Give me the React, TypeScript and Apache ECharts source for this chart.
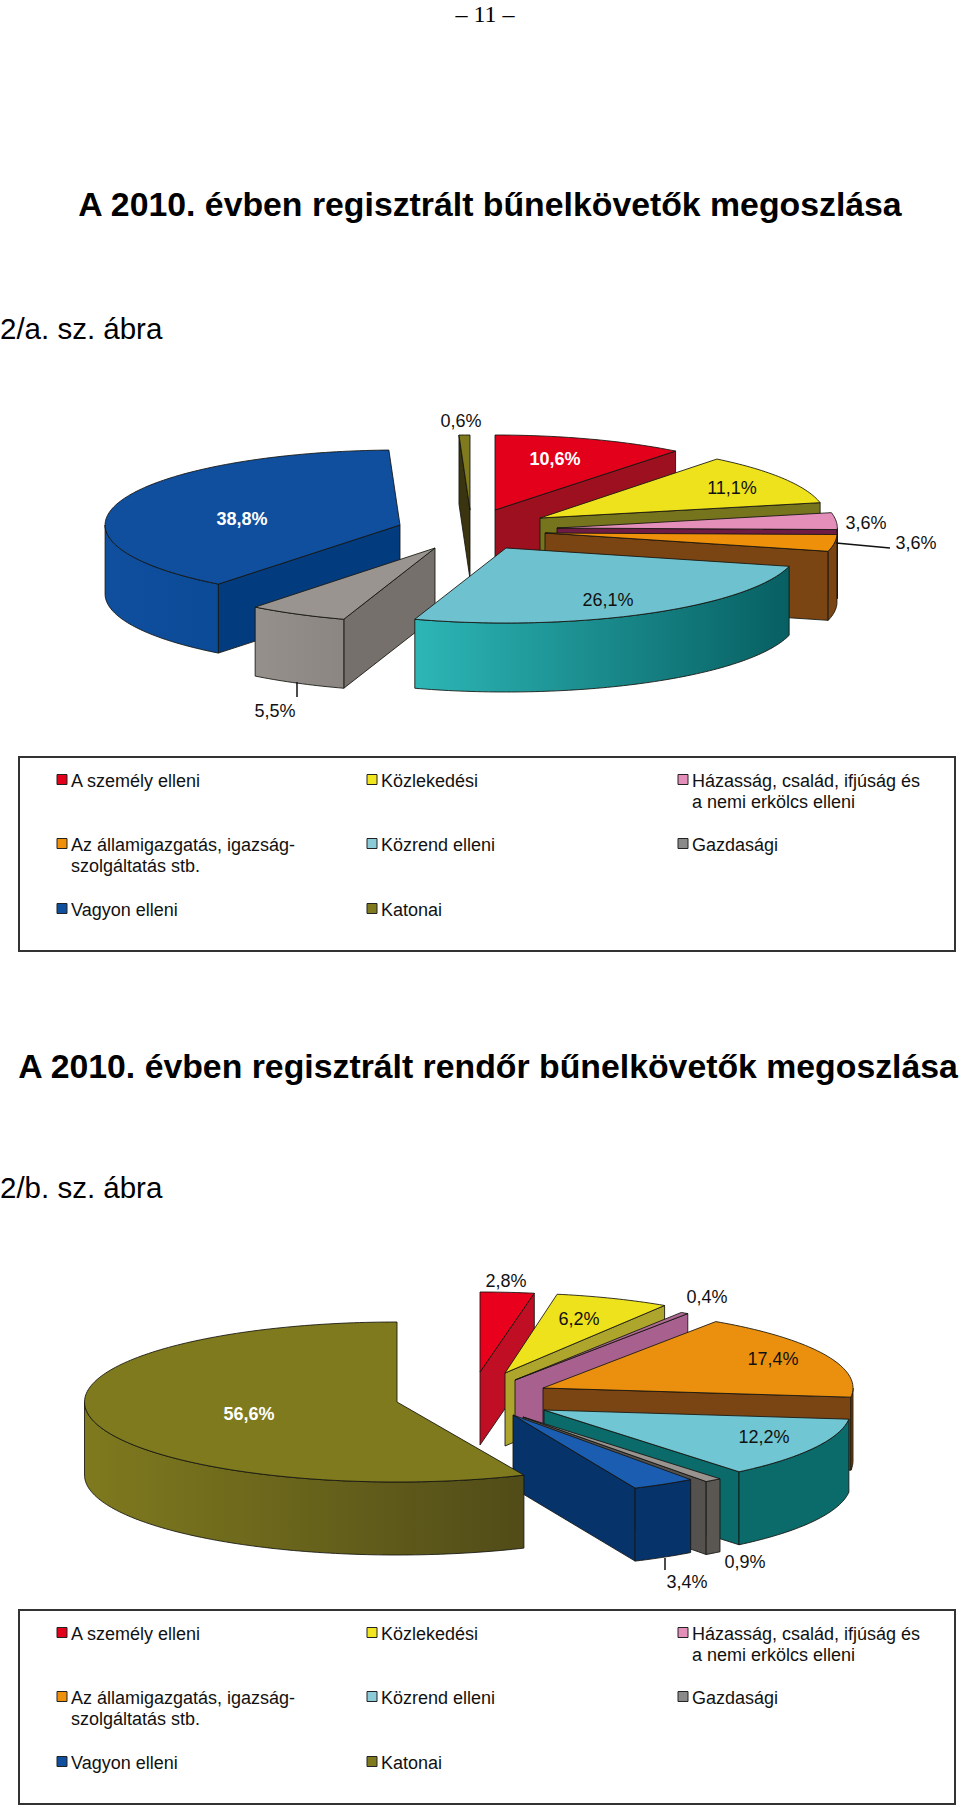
import React, { useEffect, useRef } from "react";
import * as echarts from "echarts";

// ---------- data ----------
const categories = [
  "A személy elleni",
  "Közlekedési",
  "Házasság, család, ifjúság és\na nemi erkölcs elleni",
  "Az államigazgatás, igazság-\nszolgáltatás stb.",
  "Közrend elleni",
  "Gazdasági",
  "Vagyon elleni",
  "Katonai",
];
const valuesA = [10.6, 11.1, 3.6, 3.6, 26.1, 5.5, 38.8, 0.6];
const valuesB = [2.8, 6.2, 0.4, 17.4, 12.2, 0.9, 3.4, 56.6];
const pageNumber = "– 11 –";
const titleA = "A 2010. évben regisztrált bűnelkövetők megoszlása";
const titleB = "A 2010. évben regisztrált rendőr bűnelkövetők megoszlása";
const captionA = "2/a. sz. ábra";
const captionB = "2/b. sz. ábra";

// ---------- layout and styles ----------
const FONT = "Liberation Sans";
const legendColors = ["#E2001A", "#F0E51E", "#E48FBA", "#EE9009", "#8CCBD8", "#8A8A8A", "#0F4F9E", "#7F7A1E"];

type Look = { top: string; arc: [string, string]; face: string };
const looksA: Look[] = [
  { top: "#E2001A", arc: ["#9C1020", "#9C1020"], face: "#9C1020" },
  { top: "#EEE21C", arc: ["#77741E", "#77741E"], face: "#77741E" },
  { top: "#E48FBA", arc: ["#B06A90", "#B06A90"], face: "#6E1C44" },
  { top: "#EE9009", arc: ["#7A4512", "#7A4512"], face: "#7A4512" },
  { top: "#6EC2CF", arc: ["#2DB6B6", "#075F62"], face: "#0B6A6A" },
  { top: "#9A9490", arc: ["#96908C", "#8C8682"], face: "#75706C" },
  { top: "#0F4F9E", arc: ["#0F4F9E", "#0B4A96"], face: "#033C7E" },
  { top: "#7F7A1E", arc: ["#3A3510", "#3A3510"], face: "#3A3510" },
];
const looksB: Look[] = [
  { top: "#E8001C", arc: ["#B51228", "#B51228"], face: "#C00F24" },
  { top: "#EEE21C", arc: ["#ADA52C", "#ADA52C"], face: "#ADA52C" },
  { top: "#B06A95", arc: ["#A8608E", "#A8608E"], face: "#A8608E" },
  { top: "#EB900E", arc: ["#7A4512", "#7A4512"], face: "#7A4512" },
  { top: "#70C6D2", arc: ["#0B6A6A", "#0B6A6A"], face: "#0B6A6A" },
  { top: "#9A9490", arc: ["#5A5652", "#5A5652"], face: "#55514E" },
  { top: "#1B5DB0", arc: ["#07336B", "#07336B"], face: "#07336B" },
  { top: "#7F7A1E", arc: ["#7F7A1E", "#514C18"], face: "#514C18" },
];

type Label = { x: number; y: number; color?: string; bold?: boolean; leader?: number[] };
const pieA = {
  values: valuesA,
  looks: looksA,
  cx: 470,
  cy: 525,
  rx: 292,
  ry: 75,
  depth: 69,
  explode: [[25, -15], [70, -7], [87, 3], [75, 8], [36, 23], [-35, 23], [-70, 0], [0, -15]],
  scale: [1, 0.98, 0.96, 1, 1, 1, 1.01, 1],
  order: [0, 6, 7, 1, 2, 3, 5, 4],
  labels: [
    { x: 555, y: 459, color: "#fff", bold: true },
    { x: 732, y: 488 },
    { x: 866, y: 523 },
    { x: 916, y: 543, leader: [836, 543, 890, 548] },
    { x: 608, y: 600 },
    { x: 275, y: 711, leader: [297, 682, 297, 697] },
    { x: 242, y: 519, color: "#fff", bold: true },
    { x: 461, y: 421 },
  ] as Label[],
};
const pieB = {
  values: valuesB,
  looks: looksB,
  cx: 520,
  cy: 1400,
  rx: 310,
  ry: 80,
  depth: 73,
  explode: [[-40, -28], [-15, -27], [-5, -20], [23, -12], [24, 10], [3, 17], [-7, 15], [-123, 2]],
  scale: [1, 0.96, 1, 1, 0.99, 1, 0.97, 1.008],
  order: [0, 1, 2, 3, 4, 5, 6, 7],
  labels: [
    { x: 506, y: 1281 },
    { x: 579, y: 1319 },
    { x: 707, y: 1297 },
    { x: 773, y: 1359 },
    { x: 764, y: 1437 },
    { x: 745, y: 1562 },
    { x: 687, y: 1582, leader: [665, 1558, 665, 1570] },
    { x: 249, y: 1414, color: "#fff", bold: true },
  ] as Label[],
};

const legendColumns = [57, 367, 678];
const legendRows = [780, 844, 909];

const fmt = (v: number) => v.toFixed(1).replace(".", ",") + "%";

function pieSeries(pie: typeof pieA) {
  const total = pie.values.reduce((a, b) => a + b, 0);
  const starts: number[] = [];
  let acc = 0;
  pie.values.forEach((v) => {
    starts.push((acc / total) * Math.PI * 2);
    acc += v;
  });
  const edge = "rgba(20,20,15,0.85)";
  return {
    type: "custom",
    coordinateSystem: "none",
    silent: true,
    clip: false,
    data: pie.order.map((i) => ({ name: categories[i], value: [i, pie.values[i]] })),
    renderItem: (_p: any, api: any) => {
      const i = api.value(0) as number;
      const v = api.value(1) as number;
      const a0 = starts[i];
      const a1 = a0 + (v / total) * Math.PI * 2;
      const ax = pie.cx + pie.explode[i][0];
      const ay = pie.cy + pie.explode[i][1];
      const rx = pie.rx * pie.scale[i];
      const ry = pie.ry;
      const d = pie.depth;
      const look = pie.looks[i];
      const pt = (t: number, dz = 0) => [ax + rx * Math.sin(t), ay - ry * Math.cos(t) + dz];
      const arc = (t0: number, t1: number, dz = 0) => {
        const n = Math.max(2, Math.ceil(Math.abs(t1 - t0) / 0.02));
        return Array.from({ length: n + 1 }, (_, k) => pt(t0 + ((t1 - t0) * k) / n, dz));
      };
      const children: any[] = [];
      const polygon = (points: number[][], fill: any) =>
        children.push({
          type: "polygon",
          shape: { points },
          style: { fill, stroke: edge, lineWidth: 1, lineJoin: "round" },
        });
      // radial face that looks at the viewer
      const faceAt = (t: number) => {
        const p = pt(t);
        polygon([[ax, ay], p, [p[0], p[1] + d], [ax, ay + d]], look.face);
      };
      if (Math.sin(a1) > 0.001) faceAt(a1);
      if (Math.sin(a0) < -0.001) faceAt(a0);
      // outer rim: only its front half is visible
      const f0 = Math.max(a0, Math.PI / 2);
      const f1 = Math.min(a1, (Math.PI * 3) / 2);
      if (f1 > f0) {
        const upper = arc(f0, f1);
        const lower = arc(f1, f0, d);
        const rightToLeft = new echarts.graphic.LinearGradient(1, 0, 0, 0, [
          { offset: 0, color: look.arc[1] },
          { offset: 1, color: look.arc[0] },
        ]);
        polygon([...upper, ...lower], rightToLeft);
      }
      // top surface
      polygon([[ax, ay], ...arc(a0, a1)], look.top);
      // label
      const lab = pie.labels[i];
      children.push({
        type: "text",
        z2: 100,
        x: lab.x,
        y: lab.y,
        style: {
          text: fmt(v),
          fontFamily: FONT,
          fontSize: 18,
          fontWeight: lab.bold ? "bold" : "normal",
          fill: lab.color || "#111",
          align: "center",
          verticalAlign: "middle",
        },
      });
      if (lab.leader) {
        const [x1, y1, x2, y2] = lab.leader;
        children.push({
          type: "line",
          z2: 100,
          shape: { x1, y1, x2, y2 },
          style: { stroke: "#111", lineWidth: 1.5 },
        });
      }
      return { type: "group", children };
    },
  };
}

function legendGraphics(offsetY: number) {
  const out: any[] = [
    {
      type: "rect",
      shape: { x: 19, y: 757 + offsetY, width: 936, height: 194 },
      style: { fill: "#fff", stroke: "#333", lineWidth: 2 },
      z: -1,
    },
  ];
  categories.forEach((name, i) => {
    const col = legendColumns[i % 3];
    const row = legendRows[Math.floor(i / 3)] + offsetY;
    out.push({
      type: "rect",
      shape: { x: col, y: row - 5.5, width: 10, height: 10 },
      style: { fill: legendColors[i], stroke: "#222", lineWidth: 1 },
    });
    out.push({
      type: "text",
      x: col + 14,
      y: row - 10,
      style: {
        text: name,
        fontFamily: FONT,
        fontSize: 18,
        lineHeight: 21,
        fill: "#111",
        align: "left",
        verticalAlign: "top",
      },
    });
  });
  return out;
}

function headingGraphics() {
  const text = (t: string, x: number, y: number, size: number, bold: boolean, align: string, family = FONT) => ({
    type: "text",
    x,
    y,
    style: {
      text: t,
      fontFamily: family,
      fontSize: size,
      fontWeight: bold ? "bold" : "normal",
      fill: "#000",
      align,
      verticalAlign: "middle",
    },
  });
  return [
    text(pageNumber, 485, 14, 24, false, "center", "Liberation Serif"),
    text(titleA, 490, 204, 33.8, true, "center"),
    text(captionA, 0, 328, 29.5, false, "left"),
    text(titleB, 488, 1066, 33.8, true, "center"),
    text(captionB, 0, 1187, 29.5, false, "left"),
  ];
}

export default function App() {
  const ref = useRef<HTMLDivElement>(null);
  useEffect(() => {
    document.body.style.margin = "0";
    const chart = echarts.init(ref.current!, null, { renderer: "svg" });
    chart.setOption({
      animation: false,
      backgroundColor: "#fff",
      graphic: { elements: [...headingGraphics(), ...legendGraphics(0), ...legendGraphics(853)] },
      series: [pieSeries(pieA), pieSeries(pieB)],
    });
    return () => chart.dispose();
  }, []);
  return <div ref={ref} style={{ width: 960, height: 1807, display: "block" }} />;
}
